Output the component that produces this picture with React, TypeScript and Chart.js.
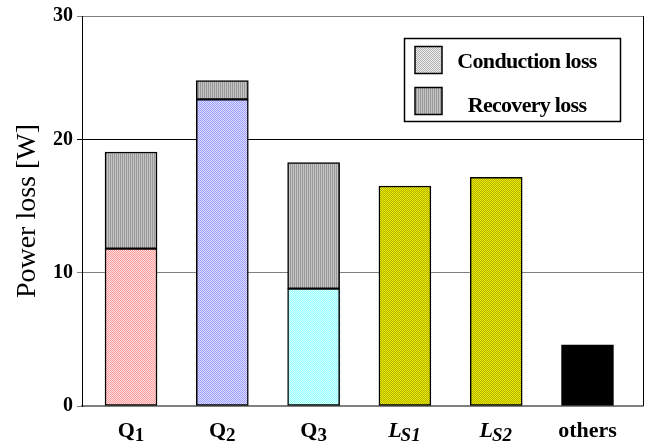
import React, { useEffect, useRef } from "react";
import { Chart, registerables } from "chart.js";

Chart.register(...registerables);

// ---- data ----
const categories = ["Q1", "Q2", "Q3", "LS1", "LS2", "others"];
const labelMain = ["Q", "Q", "Q", "L", "L", "others"];
const labelSub = ["1", "2", "3", "S1", "S2", ""];
const labelItalic = [false, false, false, true, true, false];
const conductionLoss = [11.8, 23.0, 8.8, 16.5, 17.15, 4.58];
const recoveryLoss = [7.25, 1.4, 9.45, null, null, null];
const seriesNames = ["Conduction loss", "Recovery loss"];
const yTickValues = [0, 10, 20, 30];
const yTickLabels = ["0", "10", "20", "30"];
const yAxisTop = 29.25;

const SERIF = '"Liberation Serif", "Times New Roman", serif';

function makePattern(ctx: CanvasRenderingContext2D, c1: string, c2: string, kind: "checker" | "stripe") {
  const cv = document.createElement("canvas");
  cv.width = 2;
  cv.height = 2;
  const g = cv.getContext("2d")!;
  g.fillStyle = c2;
  g.fillRect(0, 0, 2, 2);
  g.fillStyle = c1;
  if (kind === "checker") {
    g.fillRect(0, 0, 1, 1);
    g.fillRect(1, 1, 1, 1);
  } else {
    g.fillRect(0, 0, 1, 2);
  }
  return ctx.createPattern(cv, "repeat")!;
}

export default function App() {
  const ref = useRef<HTMLCanvasElement>(null);

  useEffect(() => {
    const canvas = ref.current!;
    const ctx = canvas.getContext("2d")!;

    const pink = makePattern(ctx, "#ff9a9a", "#ffe0e0", "checker");
    const blue = makePattern(ctx, "#9a9aff", "#e0e0ff", "checker");
    const cyan = makePattern(ctx, "#8cffff", "#e0ffff", "checker");
    const olive = makePattern(ctx, "#eeee00", "#b0b000", "checker");
    const grayStripe = makePattern(ctx, "#999999", "#c4c4c4", "stripe");
    const grayDots = makePattern(ctx, "#b4b4b4", "#ececec", "checker");
    const condFills: (string | CanvasPattern)[] = [pink, blue, cyan, olive, olive, "#000000"];
    const legendFills = [grayDots, grayStripe];

    const decor = {
      id: "decor",
      afterDraw(chart: any) {
        const c = chart.ctx as CanvasRenderingContext2D;
        const area = chart.chartArea;
        const xs = chart.scales.x;
        c.save();
        // right border
        c.strokeStyle = "#000";
        c.lineWidth = 1;
        c.beginPath();
        c.moveTo(area.right + 0.5, area.top);
        c.lineTo(area.right + 0.5, area.bottom);
        c.stroke();

        // legend box
        const bx = area.right - 239;
        const by = area.top + 22;
        const bw = 216;
        const bh = 83;
        c.fillStyle = "#fff";
        c.fillRect(bx, by, bw, bh);
        c.strokeStyle = "#000";
        c.lineWidth = 1.5;
        c.strokeRect(bx + 0.5, by + 0.5, bw, bh);
        const rows = [by + 8.5, by + 49.5];
        const baselines = [by + 30, by + 73.5];
        seriesNames.forEach((name, i) => {
          c.fillStyle = legendFills[i];
          c.fillRect(bx + 11, rows[i], 27, 27);
          c.strokeStyle = "#000";
          c.lineWidth = 1.5;
          c.strokeRect(bx + 11, rows[i], 27, 27);
          c.fillStyle = "#000";
          c.font = `bold 22px ${SERIF}`;
          (c as any).letterSpacing = "-0.7px";
          c.textAlign = "center";
          c.textBaseline = "alphabetic";
          c.fillText(name, bx + 123, baselines[i]);
        });
        (c as any).letterSpacing = "0px";

        // x labels with subscripts
        c.fillStyle = "#000";
        c.textAlign = "left";
        c.textBaseline = "alphabetic";
        categories.forEach((_, i) => {
          const px = xs.getPixelForValue(i);
          const it = labelItalic[i] ? "italic " : "";
          const mainFont = `${it}bold 22px ${SERIF}`;
          const subFont = `${it}bold 19px ${SERIF}`;
          c.font = mainFont;
          const w1 = c.measureText(labelMain[i]).width;
          c.font = subFont;
          const w2 = labelSub[i] ? c.measureText(labelSub[i]).width : 0;
          const x0 = px - (w1 + w2) / 2;
          c.font = mainFont;
          c.fillText(labelMain[i], x0, area.bottom + 31);
          if (labelSub[i]) {
            c.font = subFont;
            c.fillText(labelSub[i], x0 + w1 - (labelItalic[i] ? 1 : 0), area.bottom + 35);
          }
        });
        c.restore();
      },
    };

    const chart = new Chart(canvas, {
      type: "bar",
      data: {
        datasets: [
          {
            label: seriesNames[0],
            data: conductionLoss.map((v, i) => ({ x: i, y: v })),
            backgroundColor: condFills as any,
            borderColor: "#000",
            borderWidth: 1.5,
            borderSkipped: false,
            stack: "loss",
            barThickness: 52,
          },
          {
            label: seriesNames[1],
            data: recoveryLoss.map((v, i) => ({ x: i, y: v })) as any,
            backgroundColor: grayStripe as any,
            borderColor: "#000",
            borderWidth: 1.5,
            borderSkipped: false,
            stack: "loss",
            barThickness: 52,
          },
        ],
      },
      options: {
        animation: false,
        responsive: false,
        layout: { padding: { left: 0, right: 3, top: 16, bottom: 0 } },
        plugins: {
          legend: { display: false },
          tooltip: { enabled: false },
        },
        scales: {
          x: {
            type: "linear",
            offset: false,
            min: -0.537,
            max: 5.608,
            grid: { display: false, offset: false },
            border: { color: "#808080", width: 1.5 },
            ticks: { display: false },
            afterFit: (s: any) => {
              s.height = 38;
            },
          },
          y: {
            type: "linear",
            stacked: true,
            min: 0,
            max: yAxisTop,
            afterBuildTicks: (s: any) => {
              s.ticks = yTickValues.map((v) => ({ value: Math.min(v, yAxisTop) }));
            },
            afterFit: (s: any) => {
              s.width = 82;
            },
            ticks: {
              color: "#000",
              font: { family: SERIF, size: 20, weight: "bold" },
              padding: 4,
              callback: (_v: any, idx: number) => yTickLabels[idx],
            },
            grid: {
              color: (c: any) => (c.tick && c.tick.value === 20 ? "#000" : "#808080"),
              lineWidth: 1,
              tickLength: 5,
            },
            border: { color: "#000", width: 1 },
            title: {
              display: true,
              text: "Power loss [W]",
              color: "#000",
              font: { family: SERIF, size: 28, weight: "normal" },
              padding: { top: 11, bottom: 0 },
            },
          },
        },
      },
      plugins: [decor],
    } as any);

    return () => chart.destroy();
  }, []);

  return (
    <div style={{ position: "fixed", left: 0, top: 0, width: 646, height: 444, background: "#fff" }}>
      <canvas ref={ref} width={646} height={444} style={{ display: "block" }} />
    </div>
  );
}
